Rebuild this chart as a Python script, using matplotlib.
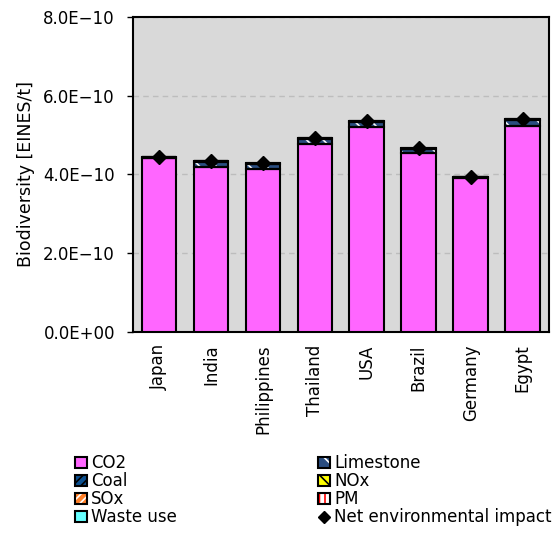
import numpy as np
import matplotlib
matplotlib.use('Agg')
import matplotlib.pyplot as plt
from matplotlib.patches import Patch
from matplotlib.lines import Line2D
from matplotlib.ticker import FuncFormatter, FixedLocator
from matplotlib.legend_handler import HandlerTuple

plt.rcParams['font.family'] = ['DejaVu Sans']
plt.rcParams['hatch.linewidth'] = 1.2

# -------------------- Data (EINES/t) --------------------
countries = ['Japan', 'India', 'Philippines', 'Thailand', 'USA', 'Brazil', 'Germany', 'Egypt']
co2 = [4.41e-10, 4.18e-10, 4.13e-10, 4.77e-10, 5.20e-10, 4.55e-10, 3.91e-10, 5.23e-10]
coal = [0.005e-10, 0.005e-10, 0.005e-10, 0.005e-10, 0.005e-10, 0.005e-10, 0.005e-10, 0.005e-10]
limestone = [0.01e-10, 0.14e-10, 0.13e-10, 0.13e-10, 0.13e-10, 0.09e-10, 0.01e-10, 0.15e-10]
sox = [0.005e-10, 0.005e-10, 0.005e-10, 0.005e-10, 0.005e-10, 0.005e-10, 0.005e-10, 0.005e-10]
nox = [0.005e-10, 0.005e-10, 0.005e-10, 0.005e-10, 0.005e-10, 0.005e-10, 0.005e-10, 0.005e-10]
pm = [0.005e-10, 0.005e-10, 0.005e-10, 0.005e-10, 0.005e-10, 0.005e-10, 0.005e-10, 0.005e-10]
waste_use = [0.0, 0.0, 0.0, 0.0, 0.0, 0.0, 0.0, 0.0]
net_impact = [4.44e-10, 4.34e-10, 4.29e-10, 4.93e-10, 5.36e-10, 4.67e-10, 3.94e-10, 5.41e-10]

# stacking order, bottom to top: (label, values, face, hatch, hatch colour)
SEGMENTS = [
    ('CO2', co2, '#ff66ff', None, 'black'),
    ('Coal', coal, '#0b4f8f', '////', 'black'),
    ('Limestone', limestone, '#2a4d80', '\\\\', 'white'),
    ('SOx', sox, '#ff7f27', '////', 'white'),
    ('NOx', nox, '#ffff00', '\\\\\\', 'black'),
    ('PM', pm, '#ffffff', '|||', 'red'),
    ('Waste use', waste_use, '#66ffff', None, 'black'),
]
FS = 12
# --------------------------------------------------------


def sci_fmt(v, pos):
    if v == 0:
        return '0.0E+00'
    exp = int(np.floor(np.log10(abs(v))))
    mant = v / 10 ** exp
    return f'{mant:.1f}E\u2212{abs(exp):02d}' if exp < 0 else f'{mant:.1f}E+{exp:02d}'


fig = plt.figure(figsize=(5.6, 5.44), dpi=100)
ax = fig.add_axes([0.2375, 0.39, 0.7425, 0.579])
ax.set_facecolor('#d9d9d9')

x = np.arange(len(countries))
width = 0.67
bottom = np.zeros(len(countries))
handles = []
for label, vals, face, hatch, hcol in SEGMENTS:
    vals = np.array(vals)
    ax.bar(x, vals, width, bottom=bottom, color=face, hatch=hatch,
           edgecolor=hcol, linewidth=0, zorder=3)
    ax.bar(x, vals, width, bottom=bottom, fill=False,
           edgecolor='black', linewidth=1.5, zorder=4)
    bottom += vals
    h1 = Patch(facecolor=face, hatch=hatch, edgecolor=hcol, linewidth=0)
    h2 = Patch(fill=False, edgecolor='black', linewidth=1.5)
    handles.append(((h1, h2), label))

ax.plot(x, net_impact, linestyle='none', marker='D', color='black',
        markersize=7, zorder=5)
net_handle = Line2D([], [], linestyle='none', marker='D', color='black', markersize=6)

ax.set_xlim(-0.5, len(countries) - 0.5)
ax.set_ylim(0, 8e-10)
ax.yaxis.set_major_locator(FixedLocator([0, 2e-10, 4e-10, 6e-10, 8e-10]))
ax.yaxis.set_major_formatter(FuncFormatter(sci_fmt))
ax.grid(axis='y', color='#bdbdbd', linestyle=(0, (4, 3)), linewidth=1, zorder=1)
ax.set_axisbelow(True)
ax.set_xticks(x)
ax.set_xticklabels(countries, rotation=90, fontsize=FS)
ax.tick_params(axis='x', length=0, pad=9)
ax.tick_params(axis='y', labelsize=FS, length=4, direction='out', width=1, pad=9)
for s in ax.spines.values():
    s.set_linewidth(1.5)
ax.set_ylabel('Biodiversity [EINES/t]', fontsize=FS + 0.5, labelpad=6)

# legend: column-first, so the order is left column then right column
order = ['CO2', 'Coal', 'SOx', 'Waste use', 'Limestone', 'NOx', 'PM']
lut = {lab: h for h, lab in handles}
leg_handles = [lut[k] for k in order] + [net_handle]
leg_labels = order + ['Net environmental impact']
fig.legend(leg_handles, leg_labels, ncol=2, loc='upper left',
           bbox_to_anchor=(0.122, 0.177), frameon=False, fontsize=FS,
           handlelength=0.7, handleheight=0.7, handletextpad=0.25,
           labelspacing=0.0, columnspacing=8.5, borderaxespad=0,
           handler_map={tuple: HandlerTuple(ndivide=1)})

fig.savefig('out.png', dpi=100)
